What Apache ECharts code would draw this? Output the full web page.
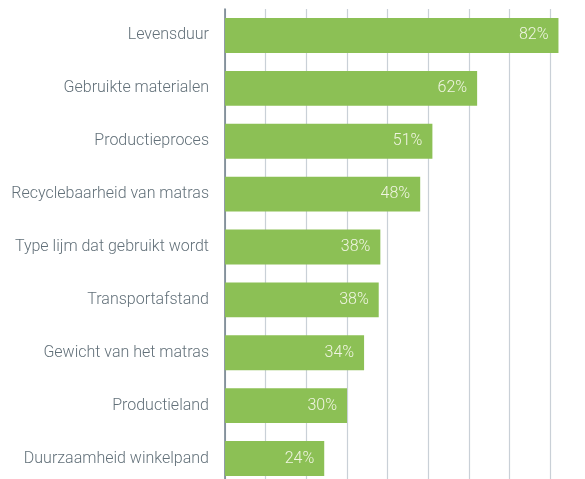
<!DOCTYPE html>
<html>
<head>
<meta charset="utf-8">
<script src="https://cdn.jsdelivr.net/npm/echarts@6/dist/echarts.min.js"></script>
<style>
  html, body { margin: 0; padding: 0; background: #fff; }
  #chart { width: 585px; height: 479px; }
</style>
</head>
<body>
<div id="chart"></div>
<script>
// categories, top to bottom
const categories = [
  'Levensduur',
  'Gebruikte materialen',
  'Productieproces',
  'Recyclebaarheid van matras',
  'Type lijm dat gebruikt wordt',
  'Transportafstand',
  'Gewicht van het matras',
  'Productieland',
  'Duurzaamheid winkelpand'
];
const shares = [82, 62, 51, 48, 38.2, 37.8, 34.2, 30, 24.4];   // %
const tickStep = 10;

const myChart = echarts.init(document.getElementById('chart'));

myChart.setOption({
  animation: false,
  // the plot runs a little past the right and bottom edges of the picture
  grid: {
    left: 225, width: 366, top: 9, height: 476,
    containLabel: false,
    outerBoundsMode: 'none'
  },
  xAxis: {
    type: 'value',
    min: 0,
    max: 90,
    interval: tickStep,
    axisLabel: { show: false },
    axisTick: { show: false },
    axisLine: { show: false },
    splitLine: { show: true, lineStyle: { color: '#c9d0d7', width: 1.2 } }
  },
  yAxis: {
    type: 'category',
    inverse: true,
    data: categories,
    axisTick: { show: false },
    axisLine: { show: true, lineStyle: { color: '#6d7c88', width: 1.5 } },
    axisLabel: {
      margin: 16,
      color: '#627079',
      fontSize: 16,
      fontWeight: 300,
      fontFamily: 'Roboto, sans-serif'
    }
  },
  series: [{
    type: 'bar',
    data: shares,
    barCategoryGap: '34%',
    itemStyle: { color: '#8cc055' },
    label: {
      show: true,
      position: 'insideRight',
      distance: 10,
      color: '#f0f5e2',
      fontSize: 16,
      fontWeight: 300,
      fontFamily: 'Roboto, sans-serif',
      formatter: p => Math.round(p.value) + '%'
    }
  }]
});
</script>
</body>
</html>
